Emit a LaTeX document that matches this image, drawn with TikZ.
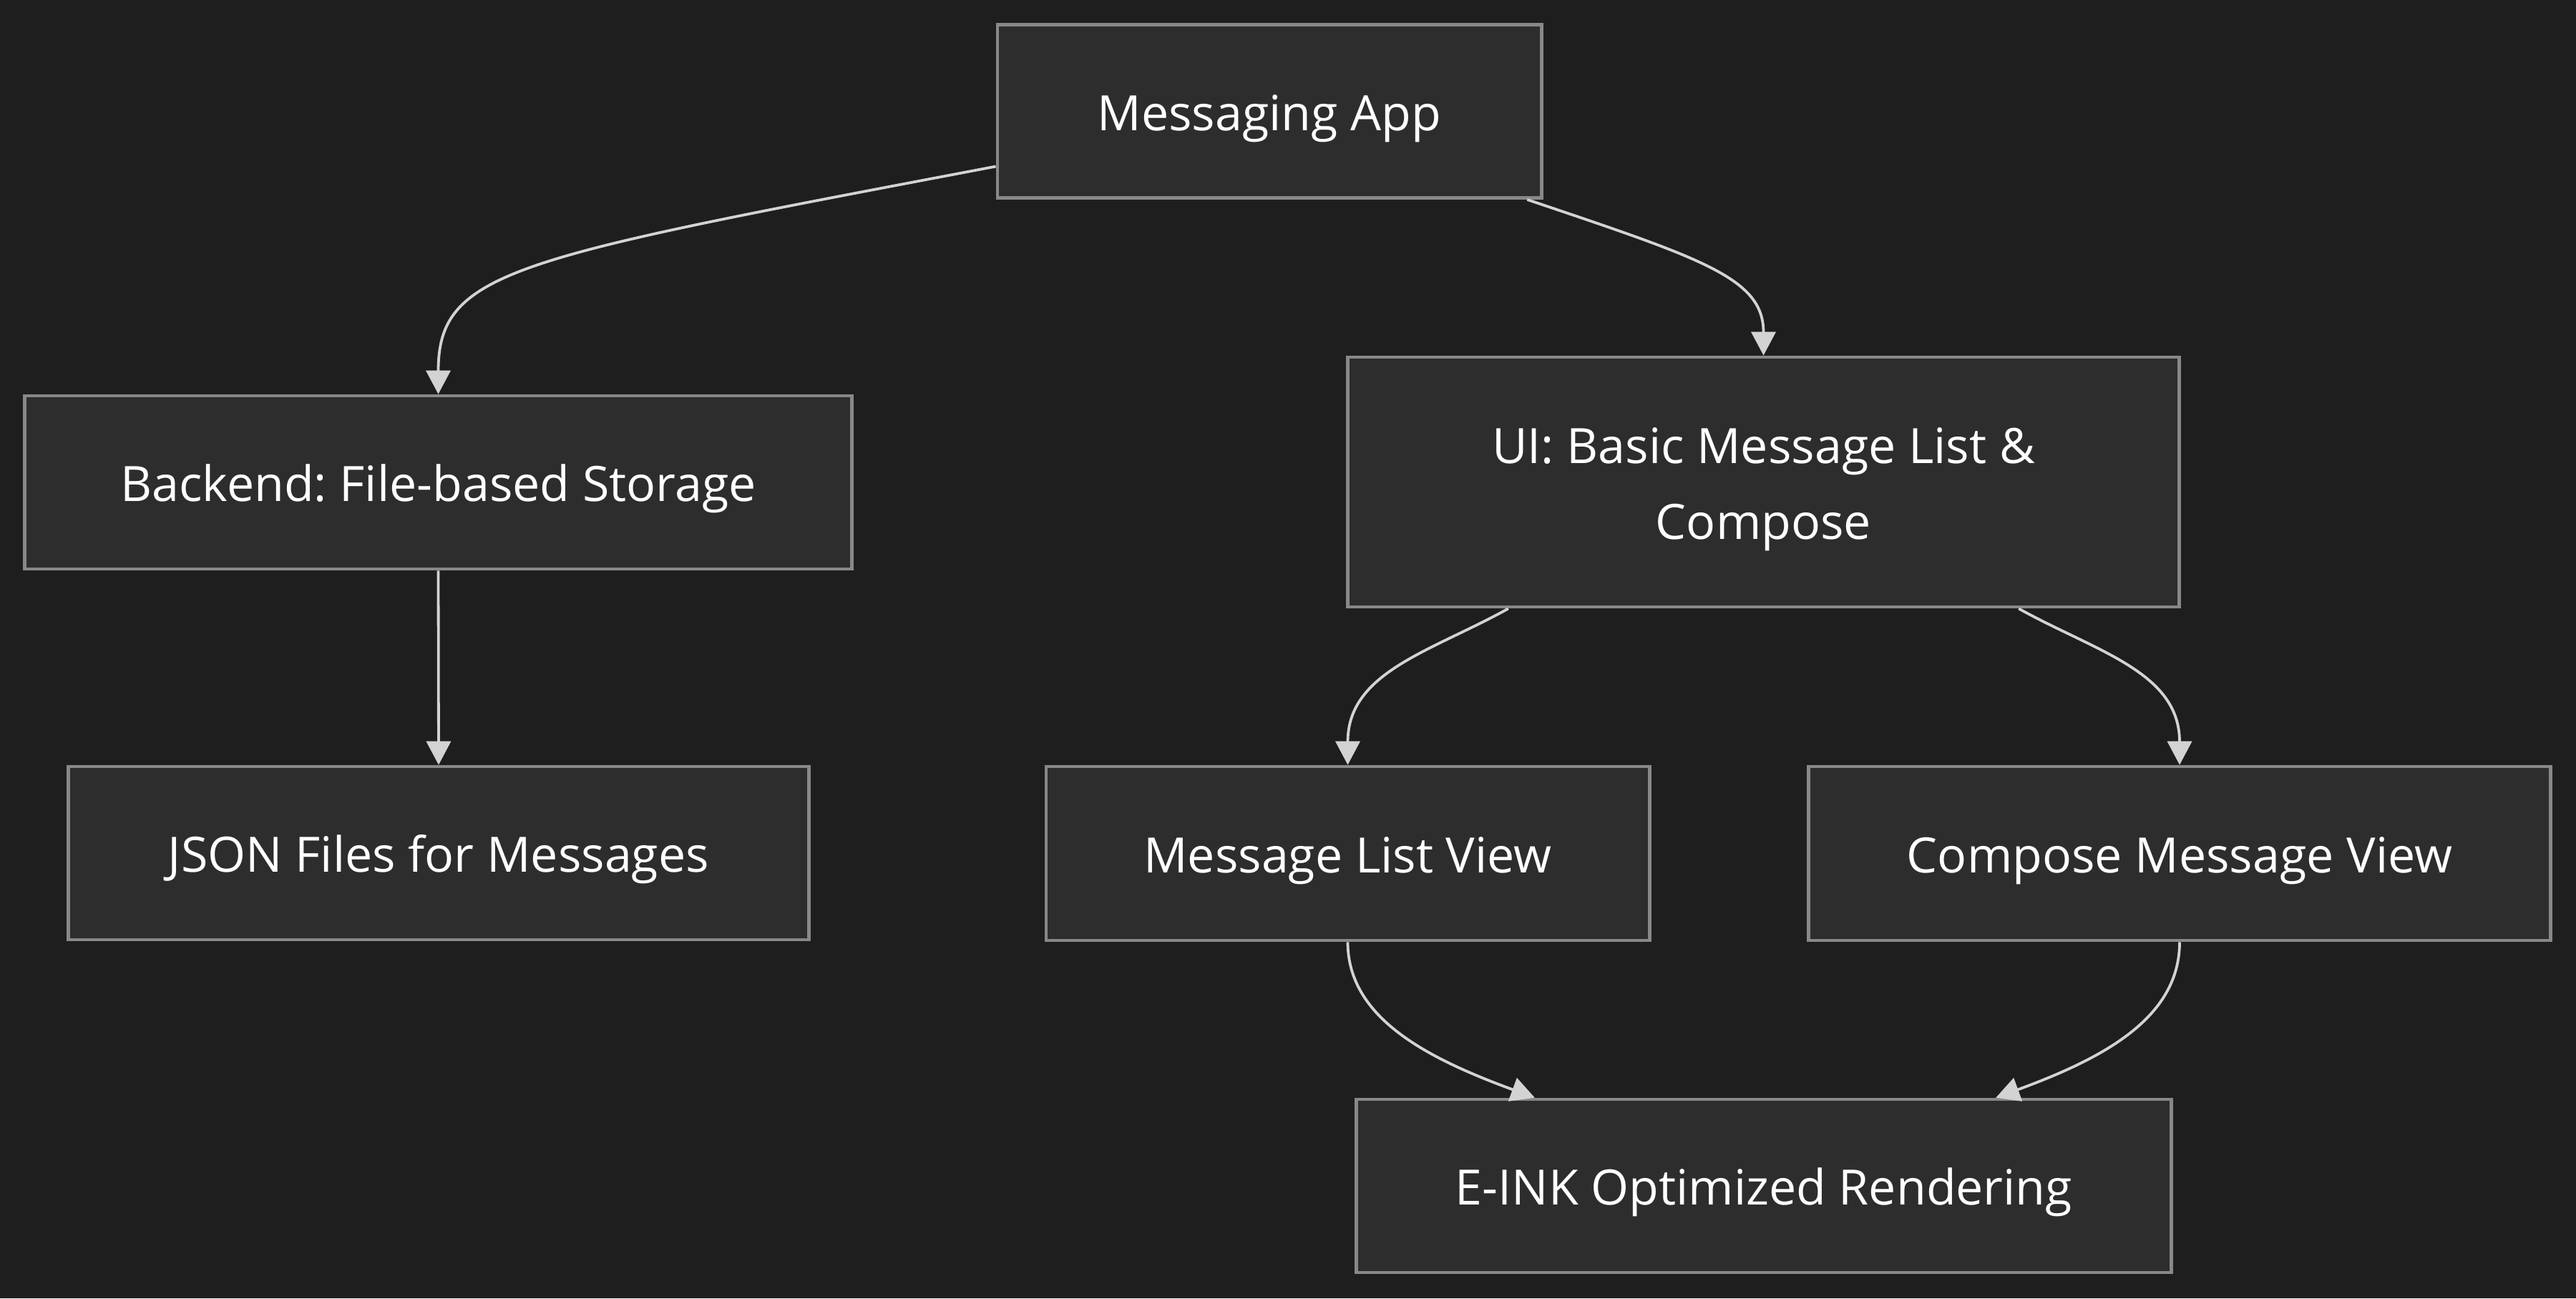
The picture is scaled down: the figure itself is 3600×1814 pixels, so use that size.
\documentclass[tikz,border=0pt]{standalone}
\usepackage{fontspec}
\setmainfont{Open Sans}
\usetikzlibrary{arrows.meta}
\definecolor{bgc}{HTML}{1E1E1E}
\definecolor{boxfill}{HTML}{2D2D2D}
\definecolor{boxline}{HTML}{888888}
\definecolor{edgec}{HTML}{D3D3D3}
\newcommand{\tstrut}{\rule{0pt}{0.70cm}}
\newcommand{\bstrut}{\rule[-0.16cm]{0pt}{0.16cm}}
\frenchspacing
\begin{document}
\begin{tikzpicture}[x=0.01cm,y=-0.01cm,
  box/.style={draw=boxline, fill=boxfill, line width=0.045cm, inner sep=0pt,
    text=white, align=center, font=\frenchspacing\fontsize{19.37pt}{30.05pt}\selectfont},
  edge/.style={draw=edgec, line width=0.038cm,
    -{Triangle[length=0.33cm,width=0.34cm]}, color=edgec}]
\fill[bgc] (0,0) rectangle (3600,1814);
\useasboundingbox (0,0) rectangle (3600,1814);

\node[box, minimum width=7.60cm, minimum height=2.42cm] (app) at (1774,155.5) {\tstrut Messaging App\bstrut};
\node[box, minimum width=11.55cm, minimum height=2.42cm] (backend) at (612.5,674) {\tstrut Backend: File-based Storage\bstrut};
\node[box, minimum width=10.34cm, minimum height=2.42cm] (json) at (613,1192) {\tstrut JSON Files for Messages\bstrut};
\node[box, minimum width=11.61cm, minimum height=3.49cm] (ui) at (2464.5,673.5) {\tstrut UI: Basic Message List \&\\Compose\bstrut};
\node[box, minimum width=8.43cm, minimum height=2.43cm] (mlv) at (1883.5,1192.5) {\tstrut Message List View\bstrut};
\node[box, minimum width=10.36cm, minimum height=2.43cm] (compose) at (3046,1192.5) {\tstrut Compose Message View\bstrut};
\node[box, minimum width=11.38cm, minimum height=2.42cm] (eink) at (2465,1657) {\tstrut E-INK Optimized Rendering\bstrut};

\draw[edge] ([yshift=-0.77cm]app.west) .. controls +(-674,128) and +(0,-173) .. (backend.north);
\draw[edge] ([xshift=3.60cm]app.south) .. controls +(246,83) and +(0,-108) .. (ui.north);
\draw[edge] (backend.south) -- (json.north);
\draw[edge] ([xshift=-3.565cm]ui.south) .. controls +(-108,60) and +(0,-130) .. (mlv.north);
\draw[edge] ([xshift=3.565cm]ui.south) .. controls +(108,60) and +(0,-130) .. (compose.north);
\draw[edge] (mlv.south) .. controls +(0,106) and +(-150,-55) .. ([xshift=-3.20cm]eink.north);
\draw[edge] (compose.south) .. controls +(0,106) and +(150,-55) .. ([xshift=3.24cm]eink.north);
\end{tikzpicture}
\end{document}
